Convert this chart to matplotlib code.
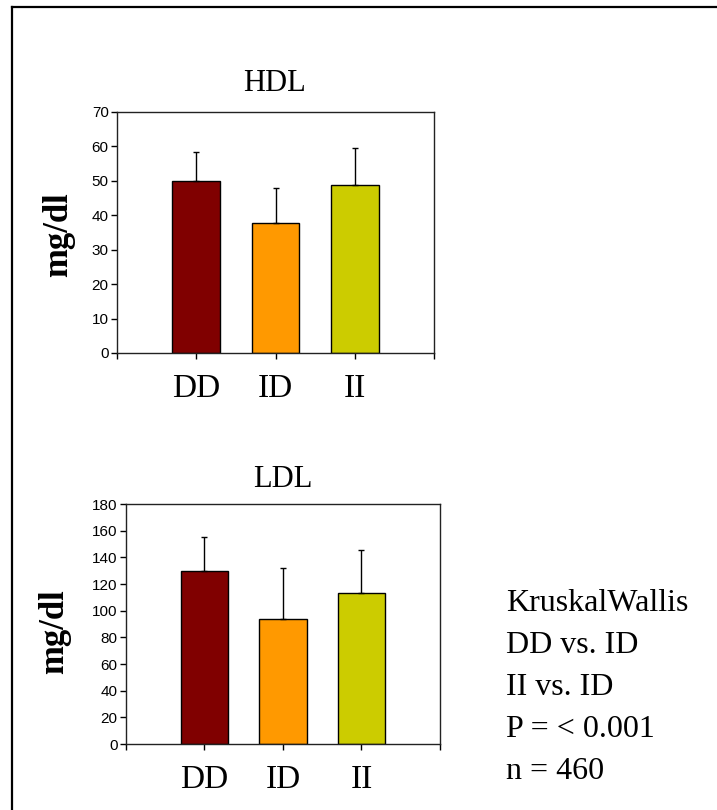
import matplotlib
matplotlib.use('Agg')
import matplotlib.pyplot as plt
from matplotlib.lines import Line2D

# data
groups = ['DD', 'ID', 'II']
colors = ['#800000', '#FF9900', '#CCCC00']
hdl_mean = [50.0, 37.9, 48.9]
hdl_sd = [8.3, 10.0, 10.5]
ldl_mean = [129.4, 93.4, 113.2]
ldl_sd = [26.1, 38.3, 32.0]
hdl_yticks = [0, 10, 20, 30, 40, 50, 60, 70]
ldl_yticks = [0, 20, 40, 60, 80, 100, 120, 140, 160, 180]
stats_lines = ['KruskalWallis', 'DD vs. ID', 'II vs. ID', 'P = < 0.001', 'n = 460']

W, H = 717, 810
serif = 'Liberation Serif'
sans = 'Liberation Sans'


def bar_panel(rect, title, means, sds, yticks, title_xy, ylab_x, ylab_y):
	ax = fig.add_axes(rect)
	pos = [1, 2, 3]
	ax.bar(pos, means, width=0.6, color=colors, edgecolor='black', linewidth=1.0, zorder=2)
	ax.errorbar(pos, means, yerr=[[0] * 3, sds], fmt='none', ecolor='black',
		elinewidth=1.0, capsize=2.5, capthick=1.0, zorder=3)
	ax.set_xlim(0, 4)
	ax.set_ylim(yticks[0], yticks[-1])
	ax.set_yticks(yticks)
	ax.set_yticklabels([str(v) for v in yticks], fontfamily=sans, fontsize=11)
	ax.set_xticks([0, 1, 2, 3, 4])
	ax.set_xticklabels([''] + groups + [''], fontfamily=serif, fontsize=24)
	ax.tick_params(axis='y', direction='out', length=4, width=1.0, pad=2)
	ax.tick_params(axis='x', direction='out', length=4, width=1.0, pad=11)
	for s in ax.spines.values():
		s.set_linewidth(1.0)
		s.set_color('#222222')
	ax.set_ylabel('mg/dl', fontfamily=serif, fontsize=25, fontweight='bold')
	ax.yaxis.label.set_va('center')
	ax.yaxis.set_label_coords(ylab_x, ylab_y)
	fig.text(title_xy[0] / W, 1 - title_xy[1] / H, title, fontfamily=serif,
		fontsize=22, ha='center', va='baseline')
	return ax


fig = plt.figure(figsize=(W / 100, H / 100), dpi=100)

# HDL panel
bar_panel([117 / W, 1 - 353 / H, (434 - 117) / W, (353 - 112) / H],
	'HDL', hdl_mean, hdl_sd, hdl_yticks, (275, 91), -0.185, 0.49)

# LDL panel
bar_panel([126 / W, 1 - 744 / H, (440 - 126) / W, (744 - 504) / H],
	'LDL', ldl_mean, ldl_sd, ldl_yticks, (283, 487), -0.228, 0.467)

# statistics text
for i, line in enumerate(stats_lines):
	fig.text(506 / W, 1 - (611 + 42 * i) / H, line, fontfamily=serif,
		fontsize=23, ha='left', va='baseline')

# outer frame (top and left edges only visible)
fig.add_artist(Line2D([12 / W, 1.0], [1 - 7 / H, 1 - 7 / H], color='black', linewidth=1.6))
fig.add_artist(Line2D([12 / W, 12 / W], [0.0, 1 - 7 / H], color='black', linewidth=1.6))

fig.savefig('out.png', dpi=100)
